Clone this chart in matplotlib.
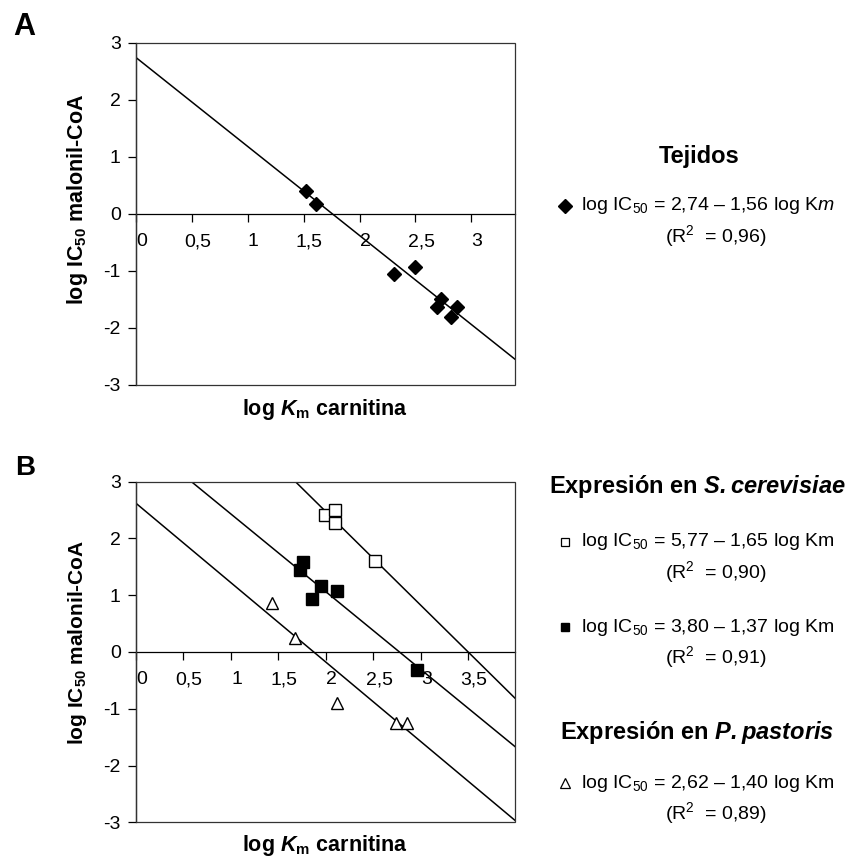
import matplotlib
matplotlib.use("Agg")
import matplotlib.pyplot as plt
import numpy as np
from matplotlib.patches import Rectangle
from matplotlib.transforms import ScaledTranslation

plt.rcParams['font.family'] = ['Liberation Sans', 'DejaVu Sans']
plt.rcParams['mathtext.fontset'] = 'custom'
plt.rcParams['mathtext.rm'] = 'Liberation Sans'
plt.rcParams['mathtext.it'] = 'Liberation Sans:italic'
plt.rcParams['mathtext.bf'] = 'Liberation Sans:bold'
plt.rcParams['mathtext.bfit'] = 'Liberation Sans:italic:bold'
plt.rcParams['axes.unicode_minus'] = False

# ---------------- Data ----------------
# Panel A: tissues
tej_x = [1.52, 1.61, 2.31, 2.50, 2.73, 2.69, 2.82, 2.87]
tej_y = [0.40, 0.17, -1.05, -0.93, -1.49, -1.64, -1.81, -1.63]
tej_fit = (2.74, -1.56)

# Panel B: S. cerevisiae (open squares / filled squares), P. pastoris (triangles)
sc_open_x = [1.99, 2.10, 2.09, 2.52]
sc_open_y = [2.42, 2.51, 2.27, 1.60]
sc_open_fit = (5.77, -1.65)

sc_fill_x = [1.76, 1.73, 1.95, 1.85, 2.12, 2.96]
sc_fill_y = [1.58, 1.44, 1.17, 0.93, 1.08, -0.32]
sc_fill_fit = (3.80, -1.37)

pp_x = [1.43, 1.67, 2.12, 2.74, 2.85]
pp_y = [0.86, 0.24, -0.89, -1.25, -1.25]
pp_fit = (2.62, -1.40)

xticks_A = [0, 0.5, 1, 1.5, 2, 2.5, 3]
xticklabels_A = ['0', '0,5', '1', '1,5', '2', '2,5', '3']
xticks_B = [0, 0.5, 1, 1.5, 2, 2.5, 3, 3.5]
xticklabels_B = ['0', '0,5', '1', '1,5', '2', '2,5', '3', '3,5']
yticks = [-3, -2, -1, 0, 1, 2, 3]
yticklabels = ['-3', '-2', '-1', '0', '1', '2', '3']

W, H = 853, 861
fig = plt.figure(figsize=(W / 100, H / 100), dpi=100)


def fx(px):
    return px / W


def fy(py):
    return 1 - py / H


def setup_axes(ax, xmax, xt, xtl):
    ax.set_xlim(0, xmax)
    ax.set_ylim(-3, 3)
    for s in ['top', 'right']:
        ax.spines[s].set_visible(False)
    ax.spines['left'].set_linewidth(0.9)
    ax.spines['bottom'].set_position(('data', 0))
    ax.spines['bottom'].set_linewidth(0.9)
    ax.add_patch(Rectangle((0, 0), 1, 1, transform=ax.transAxes, fill=False,
                           lw=0.9, edgecolor='#333333', clip_on=False, zorder=3))
    ax.set_xticks(xt)
    ax.set_xticklabels(xtl, fontsize=14)
    ax.set_yticks(yticks)
    ax.set_yticklabels(yticklabels, fontsize=14)
    ax.tick_params(axis='x', direction='out', length=6, width=0.9, pad=8)
    ax.tick_params(axis='y', direction='out', length=6, width=0.9, pad=5)
    off = ScaledTranslation(4 / 72, 0, fig.dpi_scale_trans)
    for lab in ax.get_xticklabels():
        lab.set_transform(lab.get_transform() + off)


def fit_line(ax, fit, xmax):
    xs = np.linspace(0, xmax, 200)
    ys = fit[0] + fit[1] * xs
    ax.plot(xs, ys, color='black', lw=1.1, zorder=2)


# ---------------- Panel A ----------------
axA = fig.add_axes([fx(136), fy(385), fx(515 - 136), (385 - 42.7) / H])
setup_axes(axA, 3.39, xticks_A, xticklabels_A)
fit_line(axA, tej_fit, 3.39)
axA.plot(tej_x, tej_y, linestyle='none', marker='D', ms=7.5, color='black', zorder=4)

# ---------------- Panel B ----------------
axB = fig.add_axes([fx(136), fy(822.3), fx(515 - 136), (822.3 - 481.7) / H])
setup_axes(axB, 3.99, xticks_B, xticklabels_B)
for fit in [sc_open_fit, sc_fill_fit, pp_fit]:
    fit_line(axB, fit, 3.99)
axB.plot(sc_open_x, sc_open_y, linestyle='none', marker='s', ms=8,
         mfc='white', mec='black', mew=1.0, zorder=4)
axB.plot(sc_fill_x, sc_fill_y, linestyle='none', marker='s', ms=8,
         color='black', zorder=4)
axB.plot(pp_x, pp_y, linestyle='none', marker='^', ms=9,
         mfc='white', mec='black', mew=1.0, zorder=4)

# ---------------- Axis labels ----------------
ylab = r'log IC$_{\mathbf{50}}$ malonil-CoA'
xlab = r'log $\mathbfit{K}_{\mathbf{m}}$ carnitina'
fig.text(fx(78), fy(199), ylab, rotation=90, ha='center', va='center',
         fontsize=15.5, fontweight='bold')
fig.text(fx(78), fy(642), ylab, rotation=90, ha='center', va='center',
         fontsize=15, fontweight='bold')
fig.text(fx(325), fy(409), xlab, ha='center', va='center',
         fontsize=15.5, fontweight='bold')
fig.text(fx(325), fy(846), xlab, ha='center', va='center',
         fontsize=15.5, fontweight='bold')

fig.text(fx(13), fy(35), 'A', ha='left', va='baseline', fontsize=22, fontweight='bold')
fig.text(fx(15), fy(475), 'B', ha='left', va='baseline', fontsize=20, fontweight='bold')

# ---------------- Legends (right side) ----------------
fs_leg = 14


def legend_entry(y, marker_kw, text, r2):
    fig.add_artist(plt.Line2D([fx(565)], [fy(y)], linestyle='none', **marker_kw))
    fig.text(fx(581), fy(y), text, ha='left', va='center', fontsize=fs_leg)
    fig.text(fx(716), fy(y + 30), r2, ha='center', va='center', fontsize=fs_leg)


fig.text(fx(699), fy(157), 'Tejidos', ha='center', va='center',
         fontsize=17, fontweight='bold')
legend_entry(206, dict(marker='D', ms=7, color='black'),
             r'log IC$_{50}$ = 2,74 – 1,56 log K$\mathit{m}$', r'(R$^{2}$  = 0,96)')

fig.text(fx(697), fy(487), r'Expresión en $\mathbfit{S. cerevisiae}$',
         ha='center', va='center', fontsize=17, fontweight='bold')
legend_entry(542, dict(marker='s', ms=6, mfc='white', mec='black', mew=0.9),
             r'log IC$_{50}$ = 5,77 – 1,65 log Km', r'(R$^{2}$  = 0,90)')
legend_entry(627, dict(marker='s', ms=6, color='black'),
             r'log IC$_{50}$ = 3,80 – 1,37 log Km', r'(R$^{2}$  = 0,91)')

fig.text(fx(697), fy(732), r'Expresión en $\mathbfit{P. pastoris}$',
         ha='center', va='center', fontsize=17, fontweight='bold')
legend_entry(783, dict(marker='^', ms=7, mfc='white', mec='black', mew=0.9),
             r'log IC$_{50}$ = 2,62 – 1,40 log Km', r'(R$^{2}$  = 0,89)')

fig.savefig('out.png', dpi=100)
